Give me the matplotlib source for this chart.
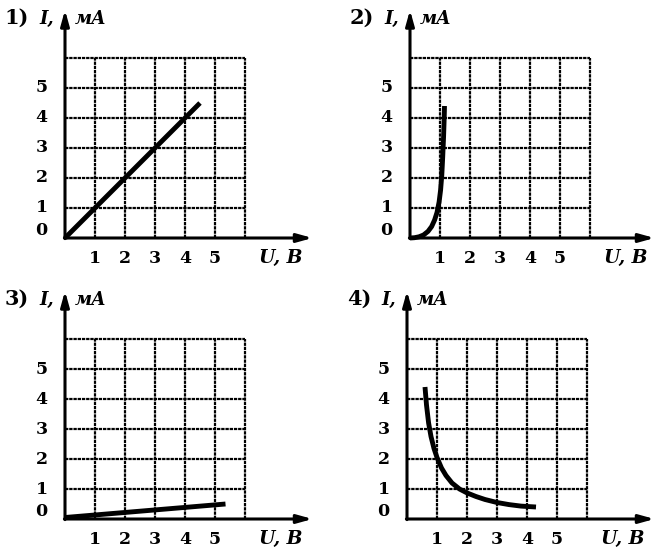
import matplotlib.pyplot as plt

# data
panel_names = ["1)", "2)", "3)", "4)"]
x_ticks = [1, 2, 3, 4, 5]
y_ticks = [0, 1, 2, 3, 4, 5]

u1 = [0.0, 4.5]
i1 = [0.0, 4.5]

u2 = [0.0, 0.15, 0.3, 0.45, 0.6, 0.72, 0.82, 0.9, 0.97, 1.02, 1.06, 1.09, 1.12, 1.14, 1.15]
i2 = [0.0, 0.01, 0.04, 0.1, 0.22, 0.38, 0.6, 0.85, 1.2, 1.6, 2.1, 2.7, 3.4, 4.0, 4.4]

u3 = [0.0, 5.35]
i3 = [0.05, 0.5]

u4 = [0.6, 0.65, 0.72, 0.8, 0.9, 1.0, 1.15, 1.3, 1.5, 1.75, 2.0, 2.3, 2.6, 3.0, 3.4, 3.8, 4.3]
i4 = [4.4, 3.8, 3.2, 2.75, 2.35, 2.05, 1.7, 1.45, 1.2, 1.0, 0.87, 0.75, 0.65, 0.55, 0.48, 0.43, 0.4]

curves = [(u1, i1), (u2, i2), (u3, i3), (u4, i4)]

W, H = 656, 552
cell = 30  # px per unit
# origin of each panel in pixels (from top-left)
origins = [(65, 238), (410, 238), (65, 519), (407, 519)]
x_arrow_end = [8.25, 8.15, 8.25, 8.25]

xmin, xmax = -2.1, 8.3
ymin, ymax = -1.1, 7.9

fig = plt.figure(figsize=(W / 100, H / 100), dpi=100)
fig.patch.set_facecolor("white")

font = dict(family="DejaVu Serif", weight="bold", color="black")

for k in range(4):
    ox, oy = origins[k]
    left = (ox + xmin * cell) / W
    bottom = (H - (oy - ymin * cell)) / H
    ax = fig.add_axes([left, bottom, (xmax - xmin) * cell / W, (ymax - ymin) * cell / H])
    ax.set_xlim(xmin, xmax)
    ax.set_ylim(ymin, ymax)
    ax.axis("off")

    # grid
    for g in range(1, 7):
        ax.plot([g, g], [0, 6], color="black", lw=1.6, ls=(0, (1.5, 0.4)))
        ax.plot([0, 6], [g, g], color="black", lw=1.6, ls=(0, (1.5, 0.4)))

    # axes with arrows
    ax.annotate("", xy=(0, 7.6), xytext=(0, -0.02),
                arrowprops=dict(arrowstyle="-|>,head_length=0.9,head_width=0.25",
                                lw=2.2, color="black", shrinkA=0, shrinkB=0))
    ax.annotate("", xy=(x_arrow_end[k], 0), xytext=(-0.02, 0),
                arrowprops=dict(arrowstyle="-|>,head_length=0.9,head_width=0.25",
                                lw=2.2, color="black", shrinkA=0, shrinkB=0))

    # tick labels
    for t in x_ticks:
        ax.text(t, -0.68, str(t), ha="center", va="center", fontsize=12.5, **font)
    for t in y_ticks:
        yy = 0.25 if t == 0 else t
        ax.text(-0.78, yy, str(t), ha="center", va="center", fontsize=12.5, **font)

    # labels
    ax.text(-1.6, 7.35, panel_names[k], ha="center", va="center", fontsize=15, **font)
    ax.text(-0.62, 7.3, "I,", ha="center", va="center", fontsize=13, style="italic", **font)
    ax.text(0.85, 7.3, "мА", ha="center", va="center", fontsize=13, style="italic", **font)
    ax.text(7.2, -0.68, "U, В", ha="center", va="center", fontsize=13.5, style="italic", **font)

    u, i = curves[k]
    ax.plot(u, i, color="black", lw=3.5, solid_capstyle="butt", solid_joinstyle="round")

fig.savefig("out.png", dpi=100, facecolor="white")
